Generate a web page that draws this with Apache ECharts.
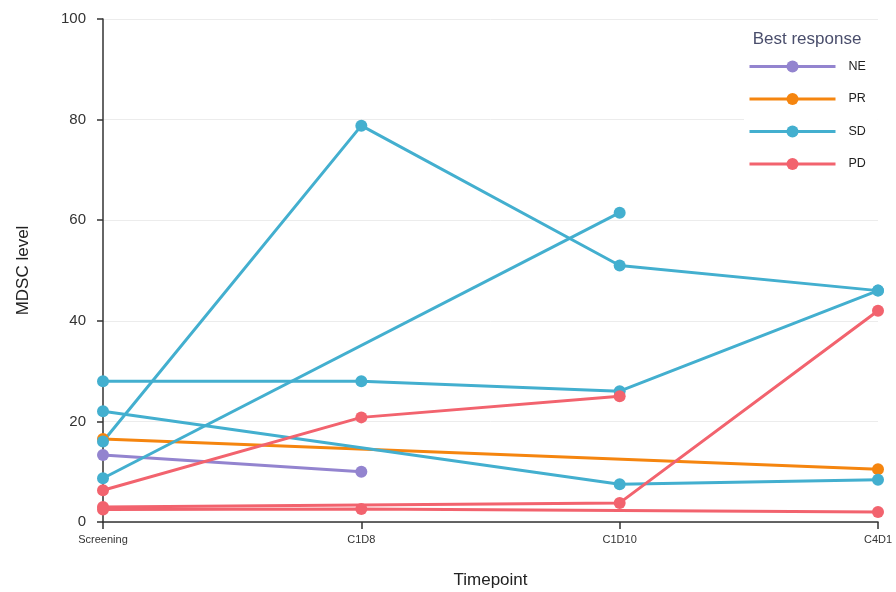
<!DOCTYPE html>
<html>
<head>
<meta charset="utf-8">
<script src="https://cdn.jsdelivr.net/npm/echarts@6/dist/echarts.min.js"></script>
<style>
  html, body { margin: 0; padding: 0; background: #fff; }
  #chart { width: 896px; height: 592px; }
</style>
</head>
<body>
<div id="chart"></div>
<script>
// Timepoints on the x axis
const timepoints = ['Screening', 'C1D8', 'C1D10', 'C4D1'];
const yTicks = [0, 20, 40, 60, 80, 100];

// One array per patient, grouped by best response (null = not measured)
const ne1 = [13.3, 10, null, null];
const pr1 = [16.5, null, null, 10.5];
const sd1 = [16, 78.8, 51, 46];
const sd2 = [8.7, null, 61.5, null];
const sd3 = [28, 28, 26, 46];
const sd4 = [22, null, 7.5, 8.4];
const pd1 = [6.3, 20.8, 25, null];
const pd2 = [3, null, 3.8, 42];
const pd3 = [2.5, 2.6, null, 2];

const responses = ['NE', 'PR', 'SD', 'PD'];
const colors = { NE: '#9384cf', PR: '#f5850f', SD: '#43afcf', PD: '#f2636e' };

const patients = [
  ['NE', ne1], ['PR', pr1],
  ['SD', sd1], ['SD', sd2], ['SD', sd3], ['SD', sd4],
  ['PD', pd1], ['PD', pd2], ['PD', pd3]
];

const font = 'Liberation Sans, Arial, sans-serif';

const series = patients.map(([resp, vals]) => ({
  name: resp,
  type: 'line',
  data: vals,
  connectNulls: true,
  symbol: 'circle',
  symbolSize: 12,
  showSymbol: true,
  color: colors[resp],
  lineStyle: { width: 3, color: colors[resp] },
  itemStyle: { color: colors[resp] },
  emphasis: { disabled: true }
}));

const chart = echarts.init(document.getElementById('chart'), null, { renderer: 'canvas' });
chart.setOption({
  animation: false,
  backgroundColor: '#fff',
  textStyle: { fontFamily: font },
  title: {
    text: 'Best response',
    left: 802, top: 26,
    textAlign: 'center',
    textStyle: { fontSize: 17, fontWeight: 'normal', color: '#4a4e6c', fontFamily: font }
  },
  legend: {
    data: responses,
    orient: 'vertical',
    left: 744, top: 56,
    itemWidth: 86,
    itemHeight: 15,
    itemGap: 19.5,
    backgroundColor: '#fff',
    padding: [4, 12, 4, 4],
    lineStyle: { width: 3 },
    textStyle: { fontSize: 12.5, color: '#222', fontFamily: font, padding: [0, 0, 0, 8] }
  },
  grid: { left: 103, right: 18, top: 19, bottom: 70, containLabel: false, outerBoundsMode: 'none' },
  xAxis: {
    type: 'category',
    data: timepoints,
    boundaryGap: false,
    name: 'Timepoint',
    nameLocation: 'middle',
    nameGap: 50,
    nameTextStyle: { fontSize: 17, color: '#222', fontFamily: font },
    axisLine: { lineStyle: { color: '#333', width: 1.5 } },
    axisTick: { show: true, length: 7, alignWithLabel: true, lineStyle: { color: '#333', width: 1.5 } },
    axisLabel: { fontSize: 11, color: '#333', margin: 12, fontFamily: font },
    splitLine: { show: false }
  },
  yAxis: {
    type: 'value',
    min: 0, max: 100, interval: 20,
    name: 'MDSC level',
    nameLocation: 'middle',
    nameGap: 71,
    nameRotate: 90,
    nameTextStyle: { fontSize: 17, color: '#222', fontFamily: font },
    axisLine: { show: true, lineStyle: { color: '#333', width: 1.5 } },
    axisTick: { show: true, length: 6, lineStyle: { color: '#333', width: 1.5 } },
    axisLabel: {
      fontSize: 15, color: '#333', margin: 17, fontFamily: font,
      formatter: v => (yTicks.includes(v) ? String(v) : '')
    },
    splitLine: { show: true, lineStyle: { color: '#ececec', width: 1 } }
  },
  series: series
});
</script>
</body>
</html>
